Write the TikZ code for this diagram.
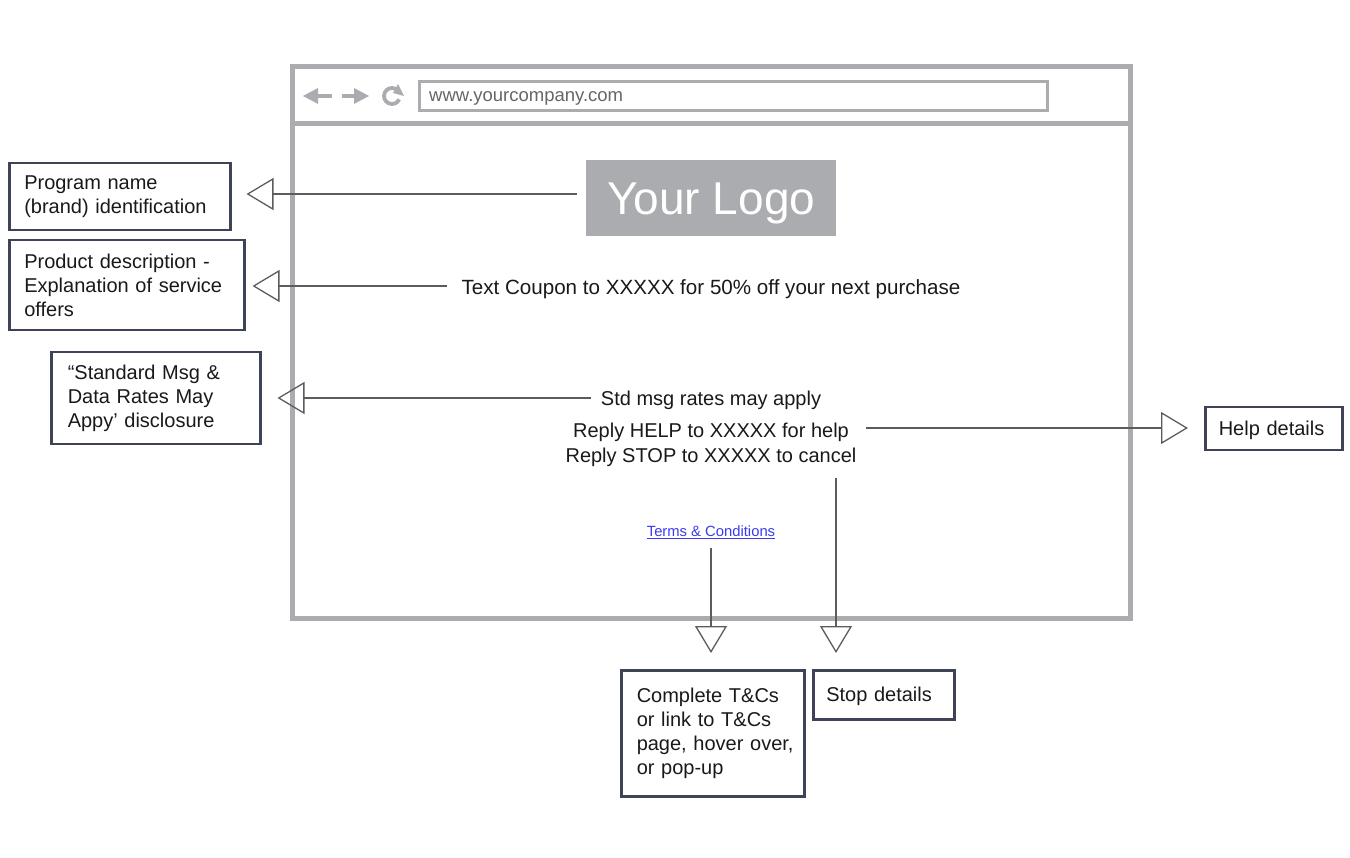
\documentclass[tikz,border=0pt]{standalone}
\usepackage{fontspec}
\setmainfont{Liberation Sans}
\usetikzlibrary{arrows.meta}
\definecolor{browser}{HTML}{ABACB0}
\definecolor{boxc}{HTML}{3E4358}
\definecolor{conn}{HTML}{5C5C5C}
\definecolor{linkc}{HTML}{3A3AF0}
\begin{document}
\begin{tikzpicture}[x=1pt,y=-1pt,
  frame/.style={draw=browser,line width=5pt},
  callout/.style={draw=boxc,line width=2.5pt,inner xsep=15pt,inner ysep=0pt,align=left,anchor=north west,font=\fontsize{20}{24}\selectfont,text=black!90},
  midtext/.style={font=\fontsize{20}{25}\selectfont,text=black!90,inner sep=0pt},
  connector/.style={draw=conn,line width=1.5pt,-{Triangle[open,length=27pt,width=32pt,line width=1.3pt]}}
]
\useasboundingbox (0,0) rectangle (1350,858);
% browser window
\draw[frame] (292,67) rectangle (1130,618);
\draw[draw=browser,line width=4.5pt] (292,123.5) -- (1130,123.5);
\node[draw=browser,line width=3pt,minimum width=628pt,minimum height=29pt,anchor=north west,inner sep=0pt] (url) at (418,80) {};
\node[anchor=base west,inner sep=0pt,text=black!60,font=\fontsize{18.5}{20}\selectfont] (urltext) at (429,101.5) {www.yourcompany.com};
% icons
\draw[browser,line width=4pt] (332,96) -- (314,96);
\fill[browser] (303,96) -- (318,88) -- (318,104) -- cycle;
\draw[browser,line width=4pt] (342,96) -- (358,96);
\fill[browser] (369,96) -- (354,88) -- (354,104) -- cycle;
\draw[browser,line width=3.8pt] (392,96) ++(25:8) arc[start angle=25,end angle=330,radius=8];
\fill[browser] (398,84) -- (404,96) -- (393,93) -- cycle;
% logo
\node[fill=browser,minimum width=250pt,minimum height=76pt,anchor=north west,inner sep=0pt,text depth=0pt,text=white,font=\fontsize{46}{50}\selectfont] (logo) at (586,160) {Your Logo};
% texts
\node[midtext,font=\fontsize{20.6}{25}\selectfont] (coupon) at (711,289) {Text Coupon to XXXXX for 50\% off your next purchase};
\node[midtext] (std) at (711,400) {Std msg rates may apply};
\node[midtext] (help) at (711,432) {Reply HELP to XXXXX for help};
\node[midtext] (stop) at (711,457) {Reply STOP to XXXXX to cancel};
\node[inner sep=0pt,text=linkc,font=\fontsize{14.8}{16}\selectfont] (terms) at (711,532) {\underline{Terms \& Conditions}};
% callout boxes
\node[callout,minimum width=221pt,minimum height=67pt,text width=191pt] (b1) at (8,162) {Program name\\(brand) identification};
\node[callout,minimum width=235pt,minimum height=90pt,text width=205pt] (b2) at (8,239) {Product description -\\Explanation of service\\offers};
\node[callout,minimum width=209pt,minimum height=92pt,text width=176pt,inner xsep=16.5pt] (b3) at (50,351) {“Standard Msg \&\\Data Rates May\\Appy’ disclosure};
\node[callout,minimum width=137pt,minimum height=43pt,text width=110pt,inner xsep=13.5pt,text depth=0pt] (bh) at (1204,406) {Help details};
\node[callout,minimum width=183pt,minimum height=126pt,text width=152pt,inner xsep=15.5pt] (bt) at (620,669) {\mbox{Complete T\&Cs}\\\mbox{or link to T\&Cs}\\\mbox{page, hover over,}\\\mbox{or pop-up}};
\node[callout,minimum width=141pt,minimum height=49pt,text width=115pt,inner xsep=13pt,text depth=0pt] (bs) at (812,669) {Stop details};
% connector start points
\coordinate (s1) at (577,194);
\coordinate (s2) at (447,286);
\coordinate (s3) at (591,398);
\coordinate (sh) at (866,428);
\coordinate (st) at (711,548);
\coordinate (ss) at (836,478);
% connectors
\draw[connector,shorten >=15pt] (s1) -- (s1 -| b1.east);
\draw[connector,shorten >=7pt] (s2) -- (s2 -| b2.east);
\draw[connector,shorten >=16pt] (s3) -- (s3 -| b3.east);
\draw[connector,shorten >=16pt] (sh) -- (sh -| bh.west);
\draw[connector,shorten >=16pt] (st) -- (st |- bt.north);
\draw[connector,shorten >=16pt] (ss) -- (ss |- bs.north);
\end{tikzpicture}
\end{document}
